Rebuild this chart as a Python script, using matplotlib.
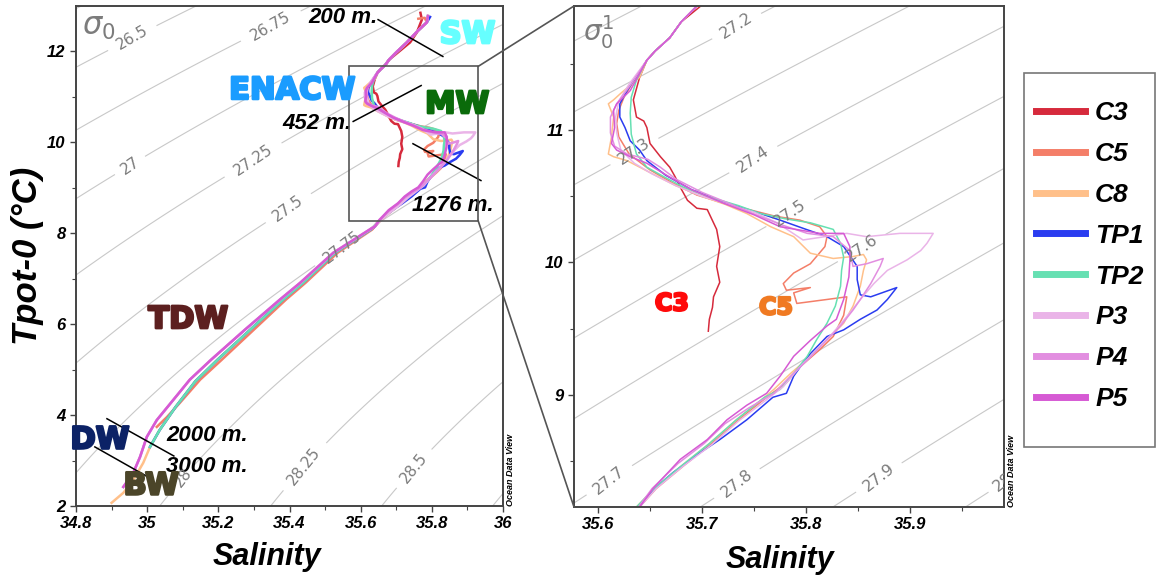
import numpy as np
import matplotlib
matplotlib.use('Agg')
import matplotlib.pyplot as plt
import matplotlib.patheffects as pe
from matplotlib.lines import Line2D
from matplotlib.patches import Rectangle, ConnectionPatch
from matplotlib.font_manager import FontProperties

# ---------------------------------------------------------------------------
# data (salinity, potential temperature)
# ---------------------------------------------------------------------------
top_S = [35.789, 35.786, 35.760, 35.730, 35.700, 35.680, 35.669, 35.655, 35.647]
top_T = [12.78, 12.64, 12.45, 12.20, 11.98, 11.82, 11.70, 11.60, 11.53]

low_S = [35.760, 35.733, 35.707, 35.680, 35.654, 35.637]
low_T = [8.98, 8.81, 8.63, 8.46, 8.29, 8.15]

deep_main_S = [35.628, 35.528, 35.438, 35.382, 35.290, 35.198, 35.135, 35.080,
               35.035, 35.008, 34.989, 34.961, 34.933, 34.900]
deep_main_T = [8.08, 7.57, 6.91, 6.54, 5.88, 5.22, 4.74, 4.18,
               3.67, 3.30, 2.95, 2.57, 2.29, 2.07]
deep_pink_S = [35.625, 35.523, 35.430, 35.373, 35.275, 35.180, 35.120, 35.073,
               35.027, 34.999, 34.980, 34.961, 34.933]
deep_pink_T = [8.08, 7.57, 6.91, 6.54, 5.88, 5.22, 4.78, 4.33,
               3.89, 3.52, 3.08, 2.73, 2.42]
deep_salmon_S = [35.632, 35.535, 35.445, 35.390, 35.300, 35.210, 35.149, 35.092,
                 35.056, 35.027]
deep_salmon_T = [8.08, 7.57, 6.91, 6.54, 5.88, 5.22, 4.78, 4.27, 3.96, 3.74]

c3_S = [35.768, 35.772, 35.758, 35.739, 35.705, 35.680, 35.669, 35.655, 35.647,
        35.640, 35.634, 35.637, 35.644, 35.647, 35.650, 35.660, 35.669, 35.674,
        35.679, 35.686, 35.695, 35.705, 35.714, 35.717, 35.714, 35.717, 35.711,
        35.710, 35.707, 35.706]
c3_T = [12.85, 12.70, 12.42, 12.20, 11.98, 11.82, 11.70, 11.60, 11.53,
        11.40, 11.23, 11.10, 11.07, 11.02, 10.90, 10.80, 10.72, 10.65,
        10.57, 10.47, 10.41, 10.40, 10.25, 10.12, 9.97, 9.85, 9.74,
        9.66, 9.57, 9.48]

c5_S = [35.762, 35.780] + top_S[1:] + [
    35.635, 35.625, 35.620, 35.618, 35.620, 35.630, 35.650, 35.672, 35.695,
    35.720, 35.745, 35.770, 35.794, 35.813, 35.820, 35.818, 35.804, 35.788,
    35.778, 35.781, 35.804, 35.788, 35.791, 35.820, 35.839, 35.836, 35.826,
    35.813, 35.794, 35.781, 35.762, 35.735, 35.709, 35.682, 35.656, 35.640] + deep_salmon_S
c5_T = [12.72, 12.74] + top_T[1:] + [
    11.38, 11.25, 11.15, 11.05, 10.95, 10.82, 10.70, 10.60, 10.51,
    10.45, 10.40, 10.35, 10.32, 10.27, 10.195, 10.12, 9.99, 9.92,
    9.84, 9.79, 9.81, 9.77, 9.69, 9.72, 9.74, 9.60, 9.44,
    9.34, 9.21, 9.09, 8.98, 8.81, 8.63, 8.46, 8.29, 8.15] + deep_salmon_T

c8_S = top_S + [
    35.640, 35.622, 35.615, 35.610, 35.615, 35.613, 35.610, 35.615, 35.628,
    35.650, 35.675, 35.700, 35.722, 35.743, 35.766, 35.788, 35.804, 35.826,
    35.845, 35.855, 35.858, 35.855, 35.852, 35.845, 35.836, 35.820, 35.804,
    35.785, 35.769] + low_S + deep_main_S
c8_T = top_T + [
    11.40, 11.28, 11.23, 11.20, 11.10, 10.95, 10.82, 10.80, 10.77,
    10.68, 10.58, 10.50, 10.44, 10.37, 10.27, 10.195, 10.07, 10.03,
    10.045, 10.06, 10.02, 9.94, 9.82, 9.67, 9.54, 9.415, 9.29,
    9.16, 9.04] + low_T + deep_main_T

tp1_S = [35.795] + top_S[1:] + [
    35.628, 35.621, 35.621, 35.626, 35.631, 35.640, 35.647, 35.665, 35.690,
    35.720, 35.756, 35.775, 35.800, 35.820, 35.836, 35.849, 35.849, 35.852,
    35.862, 35.887, 35.878, 35.868, 35.852, 35.836, 35.820, 35.804, 35.797,
    35.788, 35.781, 35.768, 35.743, 35.717, 35.698, 35.672, 35.653, 35.640] + deep_main_S[:-4]
tp1_T = [12.76] + top_T[1:] + [
    11.30, 11.20, 11.10, 11.02, 10.92, 10.85, 10.77, 10.66, 10.55,
    10.46, 10.37, 10.32, 10.25, 10.195, 10.12, 9.97, 9.87, 9.755,
    9.74, 9.81, 9.72, 9.64, 9.57, 9.49, 9.44, 9.31, 9.24,
    9.14, 9.01, 8.98, 8.81, 8.66, 8.56, 8.41, 8.28, 8.15] + deep_main_T[:-4]

tp2_S = top_S + [
    35.637, 35.632, 35.631, 35.632, 35.637, 35.647, 35.663, 35.682, 35.705,
    35.735, 35.756, 35.780, 35.804, 35.826, 35.833, 35.836, 35.834, 35.833,
    35.828, 35.820, 35.810, 35.801, 35.788, 35.775] + low_S + deep_main_S[:-4]
tp2_T = top_T + [
    11.38, 11.25, 11.13, 10.97, 10.82, 10.72, 10.65, 10.57, 10.50,
    10.43, 10.37, 10.33, 10.30, 10.25, 10.145, 10.04, 9.94, 9.82,
    9.67, 9.54, 9.415, 9.29, 9.16, 9.04] + low_T + deep_main_T[:-4]

p3_S = top_S + [
    35.630, 35.620, 35.617, 35.618, 35.622, 35.635, 35.652, 35.675, 35.700,
    35.725, 35.750, 35.772, 35.797, 35.839, 35.858, 35.890, 35.922, 35.916,
    35.910, 35.897, 35.878, 35.865, 35.852, 35.839, 35.826, 35.810, 35.794,
    35.778, 35.760, 35.735, 35.709, 35.682, 35.656, 35.640] + deep_pink_S
p3_T = top_T + [
    11.35, 11.22, 11.10, 10.98, 10.85, 10.75, 10.67, 10.58, 10.50,
    10.44, 10.38, 10.30, 10.17, 10.22, 10.195, 10.22, 10.22, 10.145,
    10.09, 10.02, 9.94, 9.84, 9.72, 9.59, 9.47, 9.34, 9.21,
    9.06, 8.95, 8.80, 8.62, 8.46, 8.29, 8.15] + deep_pink_T

p4_S = top_S + [
    35.632, 35.618, 35.612, 35.612, 35.616, 35.628, 35.648, 35.660, 35.675,
    35.700, 35.725, 35.752, 35.778, 35.801, 35.826, 35.842, 35.845, 35.858,
    35.874, 35.871, 35.862, 35.852, 35.845, 35.833, 35.817, 35.801, 35.785,
    35.769, 35.745, 35.722, 35.702, 35.677, 35.652, 35.639] + deep_pink_S
p4_T = top_T + [
    11.35, 11.20, 11.10, 10.98, 10.88, 10.82, 10.78, 10.72, 10.63,
    10.53, 10.45, 10.36, 10.28, 10.22, 10.195, 10.09, 9.97, 9.99,
    10.03, 9.97, 9.84, 9.72, 9.64, 9.52, 9.39, 9.26, 9.14,
    9.01, 8.90, 8.78, 8.63, 8.48, 8.29, 8.15] + deep_pink_T

p5_S = top_S + [
    35.631, 35.618, 35.615, 35.616, 35.613, 35.618, 35.631, 35.647, 35.668,
    35.690, 35.720, 35.750, 35.775, 35.813, 35.836, 35.842, 35.842, 35.841,
    35.836, 35.829, 35.820, 35.804, 35.788, 35.775, 35.762, 35.743, 35.724,
    35.705, 35.679, 35.653, 35.640] + deep_pink_S
p5_T = top_T + [
    11.30, 11.20, 11.15, 11.02, 10.90, 10.85, 10.80, 10.75, 10.65,
    10.55, 10.45, 10.36, 10.27, 10.22, 10.22, 10.12, 10.02, 9.89,
    9.72, 9.57, 9.52, 9.41, 9.29, 9.14, 9.01, 8.92, 8.81,
    8.66, 8.51, 8.29, 8.15] + deep_pink_T

names = ['C3', 'C5', 'C8', 'TP1', 'TP2', 'P3', 'P4', 'P5']
colors = ['#d62a3c', '#f47e68', '#ffc08a', '#2a3cf0', '#66e0b2',
          '#eab4e8', '#e28ee0', '#d65ad4']
profiles = [(c3_S, c3_T), (c5_S, c5_T), (c8_S, c8_T), (tp1_S, tp1_T),
            (tp2_S, tp2_T), (p3_S, p3_T), (p4_S, p4_T), (p5_S, p5_T)]


def sigma0(S, T):
    # UNESCO 1980 density at p = 0 (for the isopycnal background)
    rw = (999.842594 + 6.793952e-2 * T - 9.095290e-3 * T**2 + 1.001685e-4 * T**3
          - 1.120083e-6 * T**4 + 6.536332e-9 * T**5)
    a = 8.24493e-1 - 4.0899e-3 * T + 7.6438e-5 * T**2 - 8.2467e-7 * T**3 + 5.3875e-9 * T**4
    b = -5.72466e-3 + 1.0227e-4 * T - 1.6546e-6 * T**2
    return rw + a * S + b * S**1.5 + 4.8314e-4 * S**2 - 1000.0


FONT = 'Liberation Sans'
tick_font = dict(family=FONT, weight='bold', style='italic', size=12)
lab_font = dict(family=FONT, weight='bold', style='italic', size=22)
GRAY = '#7c7c7c'


def heavy(ax, x, y, s, color, size=22):
    ax.text(x, y, s, color=color, ha='center', va='center', fontsize=size,
            fontweight='heavy', family='DejaVu Sans', zorder=6,
            path_effects=[pe.withStroke(linewidth=1.8, foreground=color)])


fig = plt.figure(figsize=(11.56, 5.83), dpi=100)
ax1 = fig.add_axes([76 / 1156, 1 - 506 / 583, 427 / 1156, 500 / 583])
ax2 = fig.add_axes([574 / 1156, 1 - 507 / 583, 430 / 1156, 501 / 583])

# ---------------- left panel ----------------
Sg, Tg = np.meshgrid(np.linspace(34.6, 36.2, 300), np.linspace(1.0, 14.0, 300))
cs1 = ax1.contour(Sg, Tg, sigma0(Sg, Tg), levels=np.arange(26.25, 28.8, 0.25),
                  colors='#c8c8c8', linewidths=0.8)
ax1.clabel(cs1, fmt='%g', fontsize=11, colors=GRAY, inline=True, inline_spacing=4,
           manual=[(34.952, 12.37), (35.345, 12.59), (34.946, 9.55), (35.297, 9.62),
                   (35.396, 8.56), (35.548, 7.70), (35.10, 2.64), (35.444, 2.86),
                   (35.747, 2.84)])

for (s, t), c in zip(profiles, colors):
    ax1.plot(s, t, color=c, lw=1.8, solid_joinstyle='round')

ax1.set_xlim(34.8, 36.0)
ax1.set_ylim(2, 13)
ax1.set_xticks(np.arange(34.8, 36.01, 0.2))
ax1.set_xticklabels(['34.8', '35', '35.2', '35.4', '35.6', '35.8', '36'])
ax1.set_xticks(np.arange(34.9, 36.0, 0.2), minor=True)
ax1.set_yticks([2, 4, 6, 8, 10, 12])
ax1.set_yticks([3, 5, 7, 9, 11], minor=True)

ax1.add_patch(Rectangle((35.567, 8.28), 0.363, 3.39, fill=False, ec='#555555', lw=1.2, zorder=5))

ax1.text(0.015, 0.985, r'$\sigma_0$', transform=ax1.transAxes, color=GRAY, fontsize=22,
         va='top', ha='left')

# water mass labels
small = dict(lab_font, size=16)
ax1.text(35.452, 12.75, '200 m.', ha='left', va='center', **small)
ax1.plot([35.649, 35.831], [12.70, 11.89], color='k', lw=1.1)
heavy(ax1, 35.90, 12.37, 'SW', '#66ffff')
heavy(ax1, 35.407, 11.14, 'ENACW', '#1a9cff')
ax1.text(35.477, 10.41, '452 m.', ha='center', va='center', **small)
ax1.plot([35.579, 35.770], [10.46, 11.25], color='k', lw=1.1)
heavy(ax1, 35.871, 10.83, 'MW', '#0a6b0a')
ax1.text(35.86, 8.61, '1276 m.', ha='center', va='center', **small)
ax1.plot([35.747, 35.938], [9.97, 9.16], color='k', lw=1.1)
heavy(ax1, 35.115, 6.10, 'TDW', '#5c1f1f')
heavy(ax1, 34.867, 3.45, 'DW', '#0c2266')
heavy(ax1, 35.011, 2.44, 'BW', '#4b4529')
ax1.text(35.168, 3.56, '2000 m.', ha='center', va='center', **small)
ax1.text(35.168, 2.86, '3000 m.', ha='center', va='center', **small)
ax1.plot([34.887, 35.075], [3.92, 3.10], color='k', lw=1.1)
ax1.plot([34.853, 35.002], [3.30, 2.64], color='k', lw=1.1)

ax1.set_xlabel('Salinity', **lab_font)
ax1.xaxis.set_label_coords((267 - 76) / 427, -0.072)
ax1.set_ylabel('Tpot-0 (°C)', **dict(lab_font, size=25))
ax1.yaxis.set_label_coords(-0.075, 0.5)

# ---------------- right panel ----------------
Sz, Tz = np.meshgrid(np.linspace(35.5, 36.05, 300), np.linspace(8.0, 12.1, 300))
cs2 = ax2.contour(Sz, Tz, sigma0(Sz, Tz), levels=np.round(np.arange(27.1, 28.15, 0.1), 1),
                  colors='#c8c8c8', linewidths=0.8)
ax2.clabel(cs2, fmt='%g', fontsize=11.5, colors=GRAY, inline=True, inline_spacing=4,
           manual=[(35.734, 11.78), (35.636, 10.83), (35.749, 10.78), (35.785, 10.37),
                   (35.852, 10.12), (35.61, 8.36), (35.732, 8.34), (35.869, 8.38),
                   (35.985, 8.37)])

for (s, t), c in zip(profiles, colors):
    ax2.plot(s, t, color=c, lw=1.1)

ax2.set_xlim(35.577, 35.99)
ax2.set_ylim(8.15, 11.94)
ax2.set_xticks([35.6, 35.7, 35.8, 35.9])
ax2.set_xticks([35.65, 35.75, 35.85, 35.95], minor=True)
ax2.set_yticks([9, 10, 11])
ax2.set_yticks([8.5, 9.5, 10.5, 11.5], minor=True)

ax2.text(0.02, 0.985, r'$\sigma_0^1$', transform=ax2.transAxes, color=GRAY, fontsize=20,
         va='top', ha='left')
heavy(ax2, 35.671, 9.69, 'C3', '#ff0a0a', size=17)
heavy(ax2, 35.771, 9.66, 'C5', '#f07a22', size=17)
ax2.set_xlabel('Salinity', **lab_font)
ax2.xaxis.set_label_coords((780 - 574) / 430, -0.076)

for ax in (ax1, ax2):
    for sp in ax.spines.values():
        sp.set_color('#444444')
        sp.set_linewidth(1.4)
    ax.tick_params(which='major', direction='out', length=4, width=1, color='#444444')
    ax.tick_params(which='minor', direction='out', length=3, width=0.8, color='#444444')
    for lab in ax.get_xticklabels() + ax.get_yticklabels():
        lab.set_fontproperties(FontProperties(**tick_font))
    ax.text(1.008, 0.0, 'Ocean Data View', transform=ax.transAxes, rotation=90,
            fontsize=6.5, fontstyle='italic', fontweight='bold', family=FONT,
            ha='left', va='bottom')

# zoom box connectors
for ya, yb in ((11.67, 1.0), (8.28, 0.0)):
    con = ConnectionPatch(xyA=(35.930, ya), coordsA=ax1.transData,
                          xyB=(0.0, yb), coordsB=ax2.transAxes,
                          color='#555555', lw=1.2)
    fig.add_artist(con)

# legend: frameless legend inside a drawn box
fig.add_artist(Rectangle((1024 / 1156, 1 - 447 / 583), 131 / 1156, 374 / 583,
                         transform=fig.transFigure, fill=False, ec='#777777', lw=1.2))
handles = [Line2D([], [], color=c, lw=5) for c in colors]
fig.legend(handles, names, loc='upper left',
           bbox_to_anchor=(1036 / 1156, 1 - 101 / 583), borderaxespad=0,
           frameon=False, borderpad=0,
           prop=dict(family=FONT, weight='bold', style='italic', size=19),
           handlelength=1.86, handletextpad=0.38, labelspacing=0.64)

fig.savefig('out.png', dpi=100)
